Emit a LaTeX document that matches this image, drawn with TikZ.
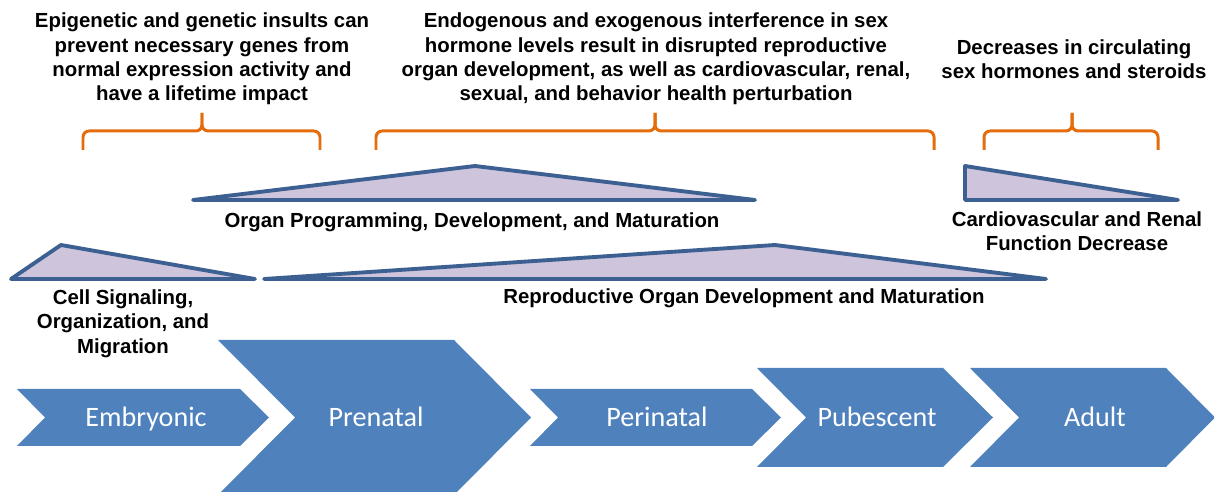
\documentclass[tikz,border=0pt]{standalone}
\usepackage{fontspec}
\setmainfont{Liberation Sans}
\newfontfamily\chevfont{Carlito}
\definecolor{chevblue}{RGB}{79,129,189}
\definecolor{tristroke}{RGB}{60,96,145}
\definecolor{trifill}{RGB}{206,196,220}
\definecolor{braceorange}{RGB}{228,108,10}
\begin{document}
\begin{tikzpicture}[x=0.02cm,y=-0.02cm,
  chev/.style={fill=chevblue,draw=none},
  chevtext/.style={text=white,font=\chevfont\fontsize{16}{19}\selectfont,inner sep=0pt,text height=10.5pt,text depth=3.5pt},
  tri/.style={draw=tristroke,fill=trifill,line width=2.2pt,line join=round,line cap=round},
  bracepath/.style={draw=braceorange,line width=1.7pt,rounded corners=3.5pt},
  lbl/.style={font=\bfseries\fontsize{11.6}{13.9}\selectfont,align=center,inner sep=0pt}]
\useasboundingbox (0,0) rectangle (1214,492);
% braces
\draw[bracepath] (83,150) -- (83,131) -- (202,131) -- (202,113);
\draw[bracepath] (320,150) -- (320,131) -- (202,131) -- (202,113);
\draw[bracepath] (376,150) -- (376,131) -- (655,131) -- (655,113);
\draw[bracepath] (934,150) -- (934,131) -- (655,131) -- (655,113);
\draw[bracepath] (984,150) -- (984,131) -- (1072,131) -- (1072,113);
\draw[bracepath] (1158,150) -- (1158,131) -- (1072,131) -- (1072,113);
% triangles
\draw[tri] (193,200) -- (475,166) -- (755,200) -- cycle;
\draw[tri] (965,166) -- (1178,200) -- (965,200) -- cycle;
\draw[tri] (11,279) -- (61,245) -- (255,279) -- cycle;
\draw[tri] (264,279) -- (775,245) -- (1046,279) -- cycle;
% chevrons
\fill[chev] (17,389) -- (240,389) -- (269,417.5) -- (240,446) -- (17,446) -- (45,417.5) -- cycle;
\fill[chev] (218,340) -- (454,340) -- (531,417.5) -- (454,495) -- (218,495) -- (295,417.5) -- cycle;
\fill[chev] (530,389) -- (752,389) -- (781,417.5) -- (752,446) -- (530,446) -- (558,417.5) -- cycle;
\fill[chev] (757,368) -- (943,368) -- (993,417.5) -- (943,467) -- (757,467) -- (806,417.5) -- cycle;
\fill[chev] (970,368) -- (1166,368) -- (1215,417.5) -- (1166,467) -- (970,467) -- (1019,417.5) -- cycle;
\node[chevtext] (emb) at (146,420.5) {Embryonic};
\node[chevtext] (pre) at (376,420.5) {Prenatal};
\node[chevtext] (peri) at (657,420.5) {Perinatal};
\node[chevtext] (pub) at (877,420.5) {Pubescent};
\node[chevtext] (adu) at (1095,420.5) {Adult};
% labels
\node[lbl] (t1) at (202,59) {Epigenetic and genetic insults can\\prevent necessary genes from\\normal expression activity and\\have a lifetime impact};
\node[lbl] (t2) at (656,59) {Endogenous and exogenous interference in sex\\hormone levels result in disrupted reproductive\\organ development, as well as cardiovascular, renal,\\sexual, and behavior health perturbation};
\node[lbl] (t3) at (1074,59.5) {Decreases in circulating\\sex hormones and steroids};
\node[lbl] (organ) at (472,222) {Organ Programming, Development, and Maturation};
\node[lbl] (cardio) at (1077,231.5) {Cardiovascular and Renal\\Function Decrease};
\node[lbl] (cell) at (123,323.5) {Cell Signaling,\\Organization, and\\Migration};
\node[lbl] (repro) at (744,298) {Reproductive Organ Development and Maturation};
\end{tikzpicture}
\end{document}
